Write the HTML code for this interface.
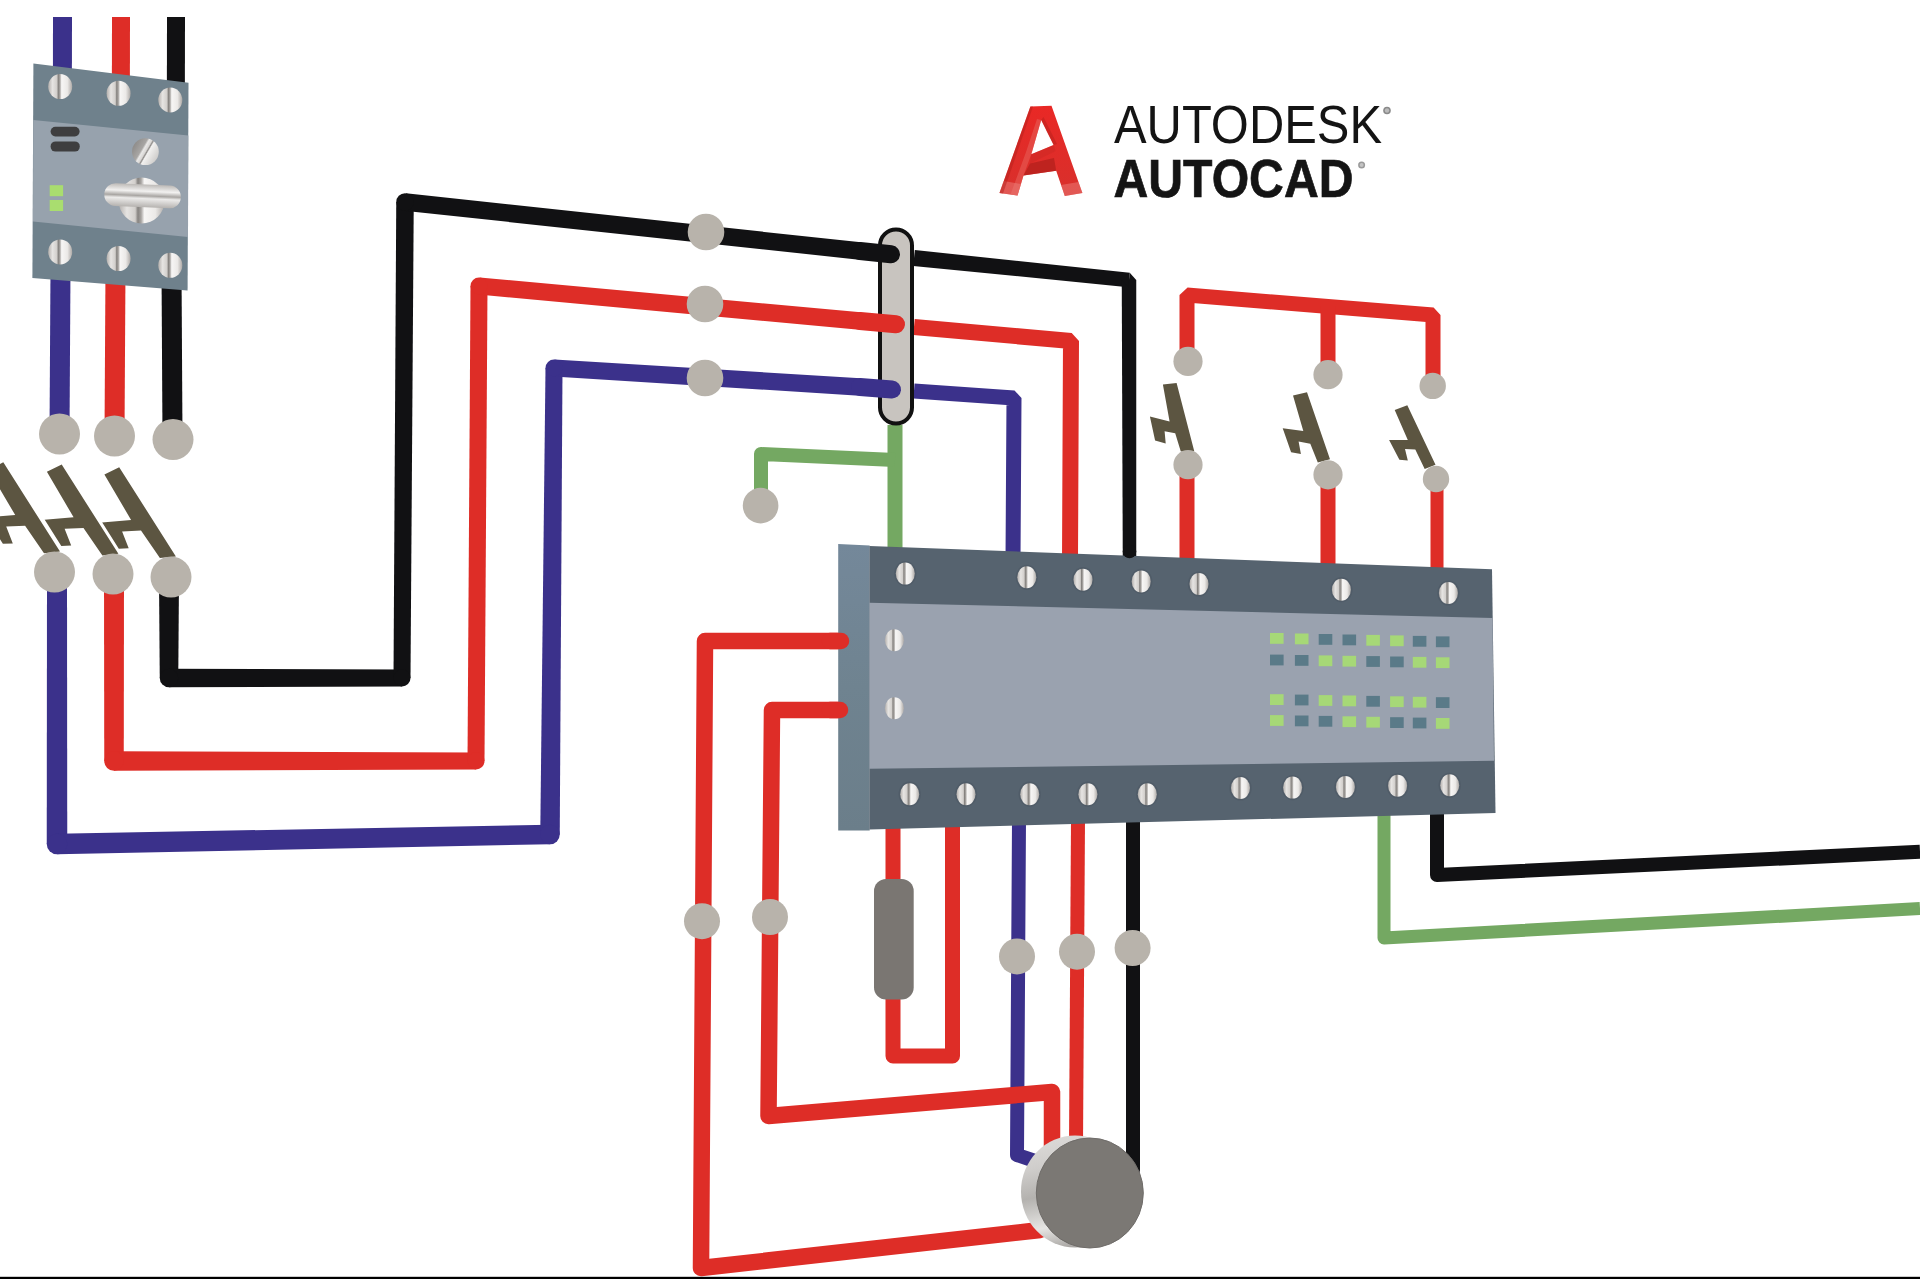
<!DOCTYPE html>
<html><head><meta charset="utf-8"><title>AutoCAD Electrical wiring</title>
<style>html,body{margin:0;padding:0;background:#fff;width:1920px;height:1279px;overflow:hidden;font-family:"Liberation Sans",sans-serif}svg{display:block}</style>
</head><body>
<svg width="1920" height="1279" viewBox="0 0 1920 1279"><defs>
<linearGradient id="scr" x1="0" y1="0" x2="1" y2="0">
 <stop offset="0" stop-color="#b3afac"/>
 <stop offset="0.18" stop-color="#e6e4e2"/>
 <stop offset="0.36" stop-color="#d2cfcc"/>
 <stop offset="0.42" stop-color="#85827f"/>
 <stop offset="0.49" stop-color="#a9a6a3"/>
 <stop offset="0.56" stop-color="#f7f6f5"/>
 <stop offset="0.8" stop-color="#ebe9e7"/>
 <stop offset="1" stop-color="#aeaaa7"/>
</linearGradient>
<linearGradient id="rim" x1="0.3" y1="0" x2="0.5" y2="1">
 <stop offset="0" stop-color="#dcdad8"/>
 <stop offset="0.25" stop-color="#cfcdcb"/>
 <stop offset="0.5" stop-color="#b4b2af"/>
 <stop offset="0.78" stop-color="#e6e5e3"/>
 <stop offset="1" stop-color="#a5a29f"/>
</linearGradient>
<linearGradient id="bar" x1="0" y1="0" x2="0" y2="1">
 <stop offset="0" stop-color="#bcb9b6"/>
 <stop offset="0.3" stop-color="#f2f1f0"/>
 <stop offset="0.5" stop-color="#a9a6a3"/>
 <stop offset="0.62" stop-color="#ecebea"/>
 <stop offset="1" stop-color="#b5b2af"/>
</linearGradient>
<linearGradient id="diag" x1="0.07" y1="0.25" x2="0.93" y2="0.75">
 <stop offset="0" stop-color="#8f8d8b"/>
 <stop offset="0.33" stop-color="#a8a6a4"/>
 <stop offset="0.4" stop-color="#e9e8e7"/>
 <stop offset="0.5" stop-color="#d9d7d5"/>
 <stop offset="0.55" stop-color="#8d8a88"/>
 <stop offset="0.6" stop-color="#f2f1f0"/>
 <stop offset="1" stop-color="#cfcdcb"/>
</linearGradient>
<linearGradient id="side" x1="0" y1="0" x2="0" y2="1">
 <stop offset="0" stop-color="#74889a"/>
 <stop offset="0.5" stop-color="#6f8390"/>
 <stop offset="1" stop-color="#6b7e8a"/>
</linearGradient>
<linearGradient id="alogo" x1="0" y1="0" x2="0" y2="1">
 <stop offset="0" stop-color="#e92825"/>
 <stop offset="1" stop-color="#d8302c"/>
</linearGradient>
</defs><path d="M62.5,17 L62,272" fill="none" stroke="#3b318b" stroke-width="19" stroke-linecap="butt" stroke-linejoin="round"/>
<path d="M121,17 L120.5,272" fill="none" stroke="#de2d27" stroke-width="18" stroke-linecap="butt" stroke-linejoin="round"/>
<path d="M176,17 L175.5,272" fill="none" stroke="#111113" stroke-width="18" stroke-linecap="butt" stroke-linejoin="round"/>
<path d="M60.5,268 L59.5,434" fill="none" stroke="#3b318b" stroke-width="20" stroke-linecap="butt" stroke-linejoin="round"/>
<path d="M115.5,268 L114.5,436" fill="none" stroke="#de2d27" stroke-width="20" stroke-linecap="butt" stroke-linejoin="round"/>
<path d="M171.5,268 L172.5,439.5" fill="none" stroke="#111113" stroke-width="20" stroke-linecap="butt" stroke-linejoin="round"/>
<polygon points="33.4,63.6 188.5,82.8 187.6,290.5 32.4,278" fill="#6f818c"/>
<polygon points="33.2,120 188.3,135.4 188,237 33,221.6" fill="#97a2ad"/>
<ellipse cx="60.2" cy="86.6" rx="12" ry="12.5" fill="url(#scr)"/>
<ellipse cx="118.6" cy="93.3" rx="12" ry="12.5" fill="url(#scr)"/>
<ellipse cx="170.3" cy="100" rx="12" ry="12.5" fill="url(#scr)"/>
<ellipse cx="60.2" cy="251.9" rx="12" ry="12.5" fill="url(#scr)"/>
<ellipse cx="118.6" cy="258.6" rx="12" ry="12.5" fill="url(#scr)"/>
<ellipse cx="170.3" cy="265.3" rx="12" ry="12.5" fill="url(#scr)"/>
<rect x="50.6" y="126.8" width="29" height="9.6" rx="4.8" fill="#3e3e3f"/>
<rect x="50.6" y="141.4" width="29.2" height="10.2" rx="5" fill="#3e3e3f"/>
<rect x="49.7" y="185.2" width="13.4" height="11" fill="#a9dd6f"/>
<rect x="49.7" y="200" width="13.4" height="11" fill="#a9dd6f"/>
<circle cx="145.4" cy="151.7" r="13.4" fill="url(#diag)"/>
<circle cx="141.6" cy="200.5" r="23" fill="url(#scr)"/>
<rect x="104.3" y="184.3" width="76.6" height="22.9" rx="11.4" fill="url(#bar)" transform="rotate(2.5 142.6 195.8)"/>
<g><polygon points="47.00,572.00 46.75,844.00 67.25,844.00 67.00,572.00" fill="#3b318b"/><polygon points="57.20,854.25 550.19,844.25 549.81,824.75 56.80,833.75" fill="#3b318b"/><polygon points="559.75,834.58 562.50,368.07 545.50,367.93 540.25,834.42" fill="#3b318b"/><polygon points="553.47,376.48 859.46,395.73 860.54,378.27 554.53,359.52" fill="#3b318b"/><circle cx="57" cy="844" r="10.25" fill="#3b318b"/><circle cx="550" cy="834.5" r="9.75" fill="#3b318b"/><circle cx="554" cy="368" r="8.5" fill="#3b318b"/></g>
<g><polygon points="104.00,574.00 104.25,761.00 123.75,761.00 124.00,574.00" fill="#de2d27"/><polygon points="114.00,770.75 476.00,769.50 476.00,752.50 114.00,751.25" fill="#de2d27"/><polygon points="484.50,761.05 487.50,286.05 470.50,285.95 467.50,760.95" fill="#de2d27"/><polygon points="478.22,294.46 859.20,329.71 860.80,312.29 479.78,277.54" fill="#de2d27"/><circle cx="114" cy="761" r="9.75" fill="#de2d27"/><circle cx="476" cy="761" r="8.5" fill="#de2d27"/><circle cx="479" cy="286" r="8.5" fill="#de2d27"/></g>
<g><polygon points="159.00,577.00 159.75,678.00 178.25,678.00 179.00,577.00" fill="#111113"/><polygon points="169.00,687.25 402.00,686.50 402.00,669.50 169.00,668.75" fill="#111113"/><polygon points="410.50,678.05 413.75,202.06 396.25,201.94 393.50,677.95" fill="#111113"/><polygon points="404.06,210.70 859.06,259.70 860.94,242.30 405.94,193.30" fill="#111113"/><circle cx="169" cy="678" r="9.25" fill="#111113"/><circle cx="402" cy="678" r="8.5" fill="#111113"/><circle cx="405" cy="202" r="8.75" fill="#111113"/></g>
<circle cx="59.5" cy="434" r="20.5" fill="#b8b3ab"/>
<circle cx="114.5" cy="436" r="20.5" fill="#b8b3ab"/>
<circle cx="173" cy="439.5" r="20.5" fill="#b8b3ab"/>
<polygon points="104.4,474.4 119.2,467.2 175.9,556.5 159.9,558.1 141.0,530.6 122.1,531.4 128.7,548.3 118.8,548.7 102.4,522.8 102.0,522.4 131.1,520.0" fill="#5c5541"/>
<polygon points="46.9,471.7 61.7,464.5 118.4,553.8 102.4,555.4 83.5,527.9 64.6,528.7 71.2,545.6 61.3,546.0 44.9,520.1 44.5,519.7 73.6,517.3" fill="#5c5541"/>
<polygon points="-11.5,469.5 3.3,462.3 60.0,551.6 44.0,553.2 25.1,525.7 6.2,526.5 12.8,543.4 2.9,543.8 -13.5,517.9 -13.9,517.5 15.2,515.1" fill="#5c5541"/>
<circle cx="54.5" cy="572" r="20.5" fill="#b8b3ab"/>
<circle cx="113" cy="574" r="20.5" fill="#b8b3ab"/>
<circle cx="171" cy="577" r="20.5" fill="#b8b3ab"/>
<g><polygon points="913.19,265.96 1128.26,287.21 1129.74,272.79 914.81,250.04" fill="#111113"/><polygon points="1121.75,280.01 1122.75,556.01 1136.25,555.99 1136.25,279.99" fill="#111113"/><polygon points="1129.00,280.00 1128.26,287.21 1121.75,280.01" fill="#111113"/><polygon points="1129.00,280.00 1129.74,272.79 1136.25,279.99" fill="#111113"/></g>
<path d="M914,327 L1071,341 L1070,560" fill="none" stroke="#de2d27" stroke-width="16" stroke-linecap="butt" stroke-linejoin="bevel"/>
<path d="M914,391 L1014,398 L1013,560" fill="none" stroke="#3b318b" stroke-width="15" stroke-linecap="butt" stroke-linejoin="bevel"/>
<path d="M895,425 L895,560" fill="none" stroke="#74a862" stroke-width="15" stroke-linecap="butt" stroke-linejoin="round"/>
<path d="M895,460 L761,454 L761,505" fill="none" stroke="#74a862" stroke-width="14" stroke-linecap="butt" stroke-linejoin="round"/>
<circle cx="760.6" cy="505.6" r="17.8" fill="#b8b3ab"/>
<rect x="880" y="229.5" width="32" height="194" rx="16" fill="#c8c4bf" stroke="#111" stroke-width="4"/>
<path d="M860,251 L891,254.3" fill="none" stroke="#111113" stroke-width="18" stroke-linecap="round" stroke-linejoin="round"/>
<path d="M860,321 L896,324.3" fill="none" stroke="#de2d27" stroke-width="18" stroke-linecap="round" stroke-linejoin="round"/>
<path d="M860,387 L892,389.5" fill="none" stroke="#3b318b" stroke-width="18" stroke-linecap="round" stroke-linejoin="round"/>
<circle cx="706" cy="232" r="18.3" fill="#b8b3ab"/>
<circle cx="705" cy="304" r="18.3" fill="#b8b3ab"/>
<circle cx="705" cy="378" r="18.3" fill="#b8b3ab"/>
<path d="M1187,361 L1187,295 L1433,315 L1433,386" fill="none" stroke="#de2d27" stroke-width="15" stroke-linecap="butt" stroke-linejoin="bevel"/>
<path d="M1328,306 L1328,375" fill="none" stroke="#de2d27" stroke-width="15" stroke-linecap="butt" stroke-linejoin="round"/>
<path d="M1187,465 L1187,560" fill="none" stroke="#de2d27" stroke-width="15" stroke-linecap="butt" stroke-linejoin="round"/>
<path d="M1328,475 L1328,565" fill="none" stroke="#de2d27" stroke-width="15" stroke-linecap="butt" stroke-linejoin="round"/>
<path d="M1437,479 L1437,568" fill="none" stroke="#de2d27" stroke-width="13" stroke-linecap="butt" stroke-linejoin="round"/>
<circle cx="1188" cy="361.4" r="14.6" fill="#b8b3ab"/>
<circle cx="1328" cy="374.7" r="14.6" fill="#b8b3ab"/>
<circle cx="1432.7" cy="385.9" r="13.2" fill="#b8b3ab"/>
<polygon points="1162.9,384.4 1176.6,383.0 1194.2,450.9 1180.8,451.6 1175.2,433.3 1164.6,431.2 1165.7,443.5 1155.1,440.4 1149.9,416.4 1169.6,421.4" fill="#5c5541"/>
<polygon points="1293.0,395.5 1307.0,392.2 1330.0,459.2 1317.8,462.5 1310.3,443.7 1298.6,441.4 1300.9,454.1 1291.1,452.2 1282.7,428.3 1303.3,431.1" fill="#5c5541"/>
<polygon points="1394.7,410.0 1407.3,405.3 1435.5,464.8 1424.7,469.1 1415.3,449.4 1405.0,448.9 1407.8,460.6 1399.4,459.7 1389.1,440.0 1407.8,440.0" fill="#5c5541"/>
<circle cx="1188" cy="464.7" r="14.6" fill="#b8b3ab"/>
<circle cx="1328" cy="474.8" r="14.6" fill="#b8b3ab"/>
<circle cx="1436" cy="479" r="13.2" fill="#b8b3ab"/>
<path d="M1019,820 L1017,1155 L1035,1161" fill="none" stroke="#3b318b" stroke-width="14" stroke-linecap="butt" stroke-linejoin="round"/>
<path d="M849,641 L705,641 L701,1268 L1040,1230" fill="none" stroke="#de2d27" stroke-width="16.5" stroke-linecap="round" stroke-linejoin="round"/>
<path d="M848,710 L772,710 L768.5,1116 L1052,1092 L1052,1150" fill="none" stroke="#de2d27" stroke-width="16.5" stroke-linecap="round" stroke-linejoin="round"/>
<path d="M893,820 L893,1056 L952.5,1056 L952.5,820" fill="none" stroke="#de2d27" stroke-width="15" stroke-linecap="butt" stroke-linejoin="round"/>
<rect x="874" y="879" width="39.7" height="120.4" rx="12" fill="#7a7672"/>
<path d="M1078,820 L1076,1145" fill="none" stroke="#de2d27" stroke-width="14" stroke-linecap="butt" stroke-linejoin="round"/>
<path d="M1133,820 L1133,1170" fill="none" stroke="#111113" stroke-width="14" stroke-linecap="round" stroke-linejoin="round"/>
<circle cx="702" cy="921.2" r="18" fill="#b8b3ab"/>
<circle cx="770" cy="917" r="18" fill="#b8b3ab"/>
<circle cx="1017" cy="956.4" r="18" fill="#b8b3ab"/>
<circle cx="1077" cy="951.7" r="18" fill="#b8b3ab"/>
<circle cx="1132.6" cy="948" r="18" fill="#b8b3ab"/>
<path d="M1384,800 L1384,938 L1920,908.6" fill="none" stroke="#74a862" stroke-width="13" stroke-linecap="butt" stroke-linejoin="round"/>
<path d="M1437,800 L1437,875 L1920,851.8" fill="none" stroke="#111113" stroke-width="14" stroke-linecap="butt" stroke-linejoin="round"/>
<ellipse cx="1075" cy="1191.5" rx="54" ry="56" fill="url(#rim)"/>
<ellipse cx="1089.8" cy="1193" rx="53.5" ry="55" fill="#7b7874" stroke="#6f6c69" stroke-width="1"/>
<polygon points="838.2,544 869.7,545.5 869.7,830.6 838.2,830.6" fill="url(#side)"/>
<polygon points="869.5,546 1492,569.3 1495.5,813 869.5,829.4" fill="#56636f"/>
<polygon points="869.5,602.7 1492.5,618 1494,760.8 869.5,768.8" fill="#9aa2af"/>
<ellipse cx="905.3" cy="573.6" rx="11.1" ry="12.6" fill="#505c68"/>
<ellipse cx="905.3" cy="573.6" rx="9.5" ry="11" fill="url(#scr)"/>
<ellipse cx="1026.8" cy="577.3" rx="11.1" ry="12.6" fill="#505c68"/>
<ellipse cx="1026.8" cy="577.3" rx="9.5" ry="11" fill="url(#scr)"/>
<ellipse cx="1083" cy="579.7" rx="11.1" ry="12.6" fill="#505c68"/>
<ellipse cx="1083" cy="579.7" rx="9.5" ry="11" fill="url(#scr)"/>
<ellipse cx="1141.2" cy="581.4" rx="11.1" ry="12.6" fill="#505c68"/>
<ellipse cx="1141.2" cy="581.4" rx="9.5" ry="11" fill="url(#scr)"/>
<ellipse cx="1199" cy="584" rx="11.1" ry="12.6" fill="#505c68"/>
<ellipse cx="1199" cy="584" rx="9.5" ry="11" fill="url(#scr)"/>
<ellipse cx="1341.4" cy="589.7" rx="11.1" ry="12.6" fill="#505c68"/>
<ellipse cx="1341.4" cy="589.7" rx="9.5" ry="11" fill="url(#scr)"/>
<ellipse cx="1448.4" cy="593" rx="11.1" ry="12.6" fill="#505c68"/>
<ellipse cx="1448.4" cy="593" rx="9.5" ry="11" fill="url(#scr)"/>
<ellipse cx="909.7" cy="794.2" rx="11.1" ry="12.6" fill="#505c68"/>
<ellipse cx="909.7" cy="794.2" rx="9.5" ry="11" fill="url(#scr)"/>
<ellipse cx="966" cy="794.2" rx="11.1" ry="12.6" fill="#505c68"/>
<ellipse cx="966" cy="794.2" rx="9.5" ry="11" fill="url(#scr)"/>
<ellipse cx="1029.7" cy="794.2" rx="11.1" ry="12.6" fill="#505c68"/>
<ellipse cx="1029.7" cy="794.2" rx="9.5" ry="11" fill="url(#scr)"/>
<ellipse cx="1087.9" cy="794.2" rx="11.1" ry="12.6" fill="#505c68"/>
<ellipse cx="1087.9" cy="794.2" rx="9.5" ry="11" fill="url(#scr)"/>
<ellipse cx="1147.3" cy="794.2" rx="11.1" ry="12.6" fill="#505c68"/>
<ellipse cx="1147.3" cy="794.2" rx="9.5" ry="11" fill="url(#scr)"/>
<ellipse cx="1240.5" cy="788" rx="11.1" ry="12.6" fill="#505c68"/>
<ellipse cx="1240.5" cy="788" rx="9.5" ry="11" fill="url(#scr)"/>
<ellipse cx="1292.6" cy="787.6" rx="11.1" ry="12.6" fill="#505c68"/>
<ellipse cx="1292.6" cy="787.6" rx="9.5" ry="11" fill="url(#scr)"/>
<ellipse cx="1345.4" cy="787" rx="11.1" ry="12.6" fill="#505c68"/>
<ellipse cx="1345.4" cy="787" rx="9.5" ry="11" fill="url(#scr)"/>
<ellipse cx="1397.6" cy="785.8" rx="11.1" ry="12.6" fill="#505c68"/>
<ellipse cx="1397.6" cy="785.8" rx="9.5" ry="11" fill="url(#scr)"/>
<ellipse cx="1449.7" cy="785.3" rx="11.1" ry="12.6" fill="#505c68"/>
<ellipse cx="1449.7" cy="785.3" rx="9.5" ry="11" fill="url(#scr)"/>
<ellipse cx="894.4" cy="640.3" rx="9.5" ry="11" fill="url(#scr)"/>
<ellipse cx="894.4" cy="708.2" rx="9.5" ry="11" fill="url(#scr)"/>
<rect x="1270.0" y="633.0" width="13.6" height="10.8" fill="#a6d877"/>
<rect x="1294.9" y="633.5" width="13.6" height="10.8" fill="#a6d877"/>
<rect x="1318.7" y="634.0" width="13.6" height="10.8" fill="#5a7a88"/>
<rect x="1342.5" y="634.5" width="13.6" height="10.8" fill="#5a7a88"/>
<rect x="1366.3" y="634.9" width="13.6" height="10.8" fill="#a6d877"/>
<rect x="1390.1" y="635.4" width="13.6" height="10.8" fill="#a6d877"/>
<rect x="1412.8" y="635.9" width="13.6" height="10.8" fill="#5a7a88"/>
<rect x="1435.9" y="636.4" width="13.6" height="10.8" fill="#5a7a88"/>
<rect x="1270.0" y="654.6" width="13.6" height="10.8" fill="#5a7a88"/>
<rect x="1294.9" y="655.0" width="13.6" height="10.8" fill="#5a7a88"/>
<rect x="1318.7" y="655.4" width="13.6" height="10.8" fill="#a6d877"/>
<rect x="1342.5" y="655.8" width="13.6" height="10.8" fill="#a6d877"/>
<rect x="1366.3" y="656.1" width="13.6" height="10.8" fill="#5a7a88"/>
<rect x="1390.1" y="656.5" width="13.6" height="10.8" fill="#5a7a88"/>
<rect x="1412.8" y="656.9" width="13.6" height="10.8" fill="#a6d877"/>
<rect x="1435.9" y="657.3" width="13.6" height="10.8" fill="#a6d877"/>
<rect x="1270.0" y="694.2" width="13.6" height="10.8" fill="#a6d877"/>
<rect x="1294.9" y="694.6" width="13.6" height="10.8" fill="#5a7a88"/>
<rect x="1318.7" y="695.1" width="13.6" height="10.8" fill="#a6d877"/>
<rect x="1342.5" y="695.5" width="13.6" height="10.8" fill="#a6d877"/>
<rect x="1366.3" y="695.9" width="13.6" height="10.8" fill="#5a7a88"/>
<rect x="1390.1" y="696.3" width="13.6" height="10.8" fill="#a6d877"/>
<rect x="1412.8" y="696.8" width="13.6" height="10.8" fill="#a6d877"/>
<rect x="1435.9" y="697.2" width="13.6" height="10.8" fill="#5a7a88"/>
<rect x="1270.0" y="715.1" width="13.6" height="10.8" fill="#a6d877"/>
<rect x="1294.9" y="715.5" width="13.6" height="10.8" fill="#5a7a88"/>
<rect x="1318.7" y="715.9" width="13.6" height="10.8" fill="#5a7a88"/>
<rect x="1342.5" y="716.3" width="13.6" height="10.8" fill="#a6d877"/>
<rect x="1366.3" y="716.8" width="13.6" height="10.8" fill="#a6d877"/>
<rect x="1390.1" y="717.2" width="13.6" height="10.8" fill="#5a7a88"/>
<rect x="1412.8" y="717.6" width="13.6" height="10.8" fill="#5a7a88"/>
<rect x="1435.9" y="718.0" width="13.6" height="10.8" fill="#a6d877"/>
<path d="M830,641 L841,641" fill="none" stroke="#de2d27" stroke-width="16.5" stroke-linecap="round" stroke-linejoin="round"/>
<circle cx="1129.5" cy="551.5" r="6.8" fill="#111113"/>
<path d="M830,710 L840,710" fill="none" stroke="#de2d27" stroke-width="16.5" stroke-linecap="round" stroke-linejoin="round"/>
<polygon points="1030.4,106.6 1051.5,105.7 1082.4,193 1064.8,196 1056.2,170.7 1023.5,175.4 1017.5,195.6 999.5,193" fill="url(#alogo)"/>
<polygon points="1041.2,120 1053.6,144.9 1031.3,154.3" fill="#fff"/>
<polygon points="1041.2,120 1031.3,154.3 1023.5,175.4 1017.5,195.6 1010.5,194.5 1026,152 1037,119" fill="#e8605a" opacity="0.55"/>
<polygon points="1041.2,120 1053.6,144.9 1057,144 1043.5,117" fill="#b81f1c" opacity="0.5"/>
<polygon points="1023.5,175.4 1056.2,170.7 1054,158 1030,163.5" fill="#b3201c" opacity="0.75"/>
<polygon points="1031.3,154.3 1053.6,144.9 1055.5,151 1030,163.5" fill="#cc2823" opacity="0.5"/>
<polygon points="999.5,193 1017.5,195.6 1021,184 1003.5,181" fill="#ee8a84" opacity="0.45"/>
<polygon points="1064.8,196 1082.4,193 1078.5,182 1061,185" fill="#ee8a84" opacity="0.45"/>
<polygon points="999.5,193 1030.4,106.6 1033,106.5 1003,193.5" fill="#b51f1c" opacity="0.5"/>
<text x="1114" y="143.2" font-family="Liberation Sans" font-size="54" fill="#141414" textLength="268" lengthAdjust="spacingAndGlyphs">AUTODESK</text>
<text x="1113.5" y="197" font-family="Liberation Sans" font-weight="bold" font-size="53" fill="#141414" stroke="#141414" stroke-width="0.7" textLength="240" lengthAdjust="spacingAndGlyphs">AUTOCAD</text>
<circle cx="1387" cy="110.5" r="3.8" fill="#8a8a8a"/><circle cx="1387" cy="110.5" r="2.2" fill="#bbb"/>
<circle cx="1361.6" cy="165" r="3.5" fill="#9a9a9a"/><circle cx="1361.6" cy="165" r="2" fill="#c4c4c4"/>
<rect x="0" y="1276.8" width="1920" height="2.2" fill="#000"/></svg>
</body></html>
